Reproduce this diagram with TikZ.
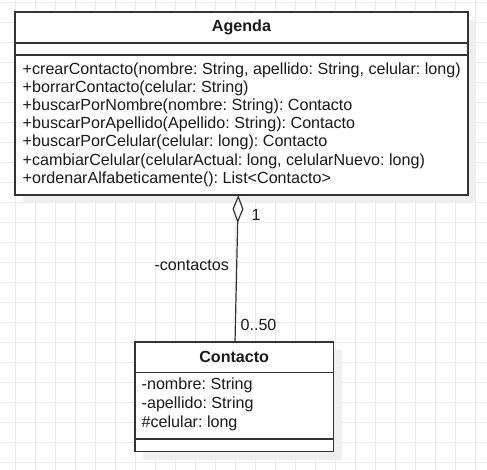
\documentclass[tikz,border=0pt]{standalone}
\usepackage{fontspec}
\setmainfont{Liberation Sans}
\usetikzlibrary{arrows.meta}
\definecolor{gridc}{HTML}{EBEBEB}
\definecolor{shadowc}{HTML}{EFEFEF}
\definecolor{linec}{HTML}{333333}
\definecolor{textc}{HTML}{1A1A1A}
\tikzset{
  gridline/.style={draw=gridc, line width=0.9pt},
  classbox/.style={draw=linec, line width=1.4pt, fill=white, inner sep=0pt, outer sep=0pt},
  sepline/.style={draw=linec, line width=1.2pt},
  shadowbox/.style={fill=shadowc},
  member/.style={anchor=west, inner sep=0pt, text=textc, font=\fontsize{16.1}{18}\selectfont\frenchspacing},
  classtitle/.style={inner sep=0pt, text=textc, font=\fontsize{16.1}{18}\selectfont\bfseries},
  assoc/.style={draw=linec, line width=1.2pt},
  lbl/.style={inner sep=0pt, text=textc, font=\fontsize{16.1}{18}\selectfont}
}
\begin{document}
\begin{tikzpicture}[x=1pt,y=-1pt]
\useasboundingbox (0,0) rectangle (487,470);
\fill[white] (0,0) rectangle (487,470);
% grid
\foreach \x in {15,35,...,475} \draw[gridline] (\x,0) -- (\x,470);
\foreach \y in {2,22,...,462} \draw[gridline] (0,\y) -- (487,\y);
% shadows
\fill[shadowbox] (23,20) rectangle (476,203);
\fill[shadowbox] (143,350) rectangle (341.5,460);
% Agenda class
\node[classbox, minimum width=453pt, minimum height=183pt] (agenda) at (241.5,103.5) {};
\draw[sepline] (15,43) -- (468,43);
\draw[sepline] (15,55) -- (468,55);
\node[classtitle] (agendaT) at (241.5,27.5) {Agenda};
\node[member] (m1) at (22.5,70) {+crearContacto(nombre: String, apellido: String, celular: long)};
\node[member] (m2) at (22.5,88.2) {+borrarContacto(celular: String)};
\node[member] (m3) at (22.5,106.4) {+buscarPorNombre(nombre: String): Contacto};
\node[member] (m4) at (22.5,124.6) {+buscarPorApellido(Apellido: String): Contacto};
\node[member] (m5) at (22.5,142.8) {+buscarPorCelular(celular: long): Contacto};
\node[member] (m6) at (22.5,161) {+cambiarCelular(celularActual: long, celularNuevo: long)};
\node[member] (m7) at (22.5,179.2) {+ordenarAlfabeticamente(): List<Contacto>};
% Contacto class
\node[classbox, minimum width=198.3pt, minimum height=109.7pt] (contacto) at (234.2,396.9) {};
\draw[sepline] (135,372.7) -- (333.3,372.7);
\draw[sepline] (135,439) -- (333.3,439);
\node[classtitle] (contactoT) at (234.2,357) {Contacto};
\node[member] (a1) at (141.5,385) {-nombre: String};
\node[member] (a2) at (141.5,404) {-apellido: String};
\node[member] (a3) at (141.5,423) {\#celular: long};
% association
\coordinate (src) at ([xshift=-3.2pt]agenda.south);
\coordinate (dst) at ([xshift=0.8pt]contacto.north);
\draw[assoc, {Diamond[open, length=28pt, width=11pt, line width=1.2pt]}-] (src) -- (dst);
\node[lbl] (one) at (256,215) {1};
\node[lbl] (role) at (191.7,265) {-contactos};
\node[lbl] (mult) at (258.5,325) {0..50};
\end{tikzpicture}
\end{document}
